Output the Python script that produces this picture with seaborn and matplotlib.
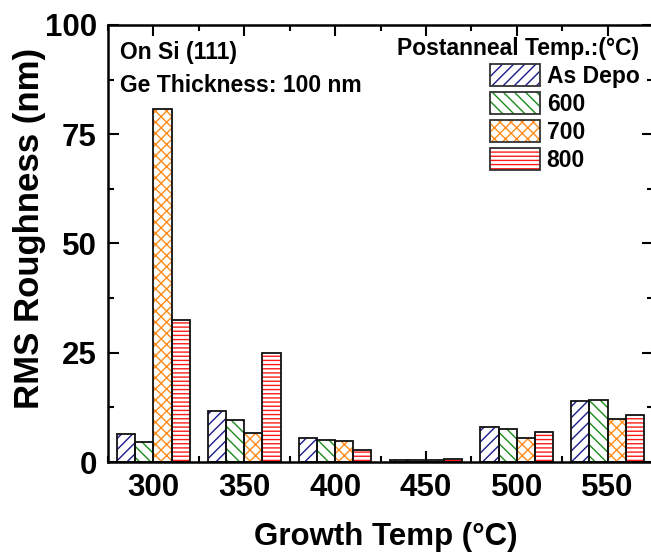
import numpy as np
import pandas as pd
import matplotlib
matplotlib.use("Agg")
import matplotlib.pyplot as plt
import seaborn as sns
from matplotlib.patches import Patch
from matplotlib.ticker import MultipleLocator

growth_temps = ["300", "350", "400", "450", "500", "550"]
anneal_labels = ["As Depo", "600", "700", "800"]
as_depo = [6.3, 11.7, 5.5, 0.55, 8.0, 14.0]
t600 = [4.5, 9.6, 5.0, 0.4, 7.6, 14.3]
t700 = [80.8, 6.6, 4.7, 0.5, 5.4, 9.9]
t800 = [32.5, 25.0, 2.8, 0.6, 6.8, 10.8]

hatch_colors = ["#1a1a8c", "#1a8c1a", "#ff8c1a", "#ff1a1a"]
hatches = ["///", "\\\\\\", "xxx", "----"]

rows = []
for lab, vals in zip(anneal_labels, [as_depo, t600, t700, t800]):
    for g, v in zip(growth_temps, vals):
        rows.append({"growth": g, "rms": v, "anneal": lab})
df = pd.DataFrame(rows)

sns.set_style("ticks", rc={"axes.edgecolor": "black", "text.color": "black",
                           "axes.labelcolor": "black", "xtick.color": "black",
                           "ytick.color": "black"})
plt.rcParams["font.family"] = ["Liberation Sans", "DejaVu Sans"]
plt.rcParams["font.weight"] = "bold"
plt.rcParams["hatch.linewidth"] = 1.0

fig = plt.figure(figsize=(6.51, 5.54), dpi=100)
ax = fig.add_axes([0.166, 0.166, 0.837, 0.789])

sns.barplot(data=df, x="growth", y="rms", hue="anneal", order=growth_temps,
            hue_order=anneal_labels, palette=["white"] * 4, errorbar=None,
            width=0.8, legend=False, ax=ax, linewidth=0, saturation=1)
for i, cont in enumerate(ax.containers):
    for bar in cont:
        bar.set_hatch(hatches[i])
        bar.set_edgecolor(hatch_colors[i])
        bar.set_linewidth(0)

sns.barplot(data=df, x="growth", y="rms", hue="anneal", order=growth_temps,
            hue_order=anneal_labels, palette=["#111111"] * 4, errorbar=None,
            width=0.8, legend=False, ax=ax, fill=False, linewidth=1.3, saturation=1)

ax.set_xlim(-0.5, 5.5)
ax.set_ylim(0, 100)
ax.yaxis.set_major_locator(MultipleLocator(25))
ax.yaxis.set_minor_locator(MultipleLocator(12.5))
ax.xaxis.set_minor_locator(MultipleLocator(0.5))

for s in ax.spines.values():
    s.set_linewidth(1.8)
    s.set_visible(True)
ax.tick_params(which="both", direction="in", top=True, right=True, width=1.5)
ax.tick_params(which="major", length=8, labelsize=22.5, pad=8)
ax.tick_params(which="minor", length=4)
for lbl in ax.get_xticklabels() + ax.get_yticklabels():
    lbl.set_fontweight("bold")

ax.set_xlabel("Growth Temp (°C)", fontsize=22.5, fontweight="bold")
ax.set_ylabel("RMS Roughness (nm)", fontsize=25, fontweight="bold")
ax.xaxis.set_label_coords(0.51, -0.138)
ax.yaxis.set_label_coords(-0.114, 0.535)

ax.text(0.022, 0.937, "On Si (111)", transform=ax.transAxes, fontsize=16.5,
        fontweight="bold", va="center", ha="left")
ax.text(0.022, 0.862, "Ge Thickness: 100 nm", transform=ax.transAxes, fontsize=16.5,
        fontweight="bold", va="center", ha="left")

handles = []
for i in range(4):
    h1 = Patch(facecolor="white", edgecolor=hatch_colors[i], hatch=hatches[i], linewidth=0)
    h2 = Patch(facecolor="none", edgecolor="#333333", linewidth=1.3)
    handles.append((h1, h2))
leg = ax.legend(handles, anneal_labels, title="Postanneal Temp.:(°C)",
                loc="upper right", bbox_to_anchor=(1.013, 1.02), frameon=False,
                handlelength=2.18, handleheight=1.05,
                labelspacing=0.2, handletextpad=0.3, alignment="right",
                prop={"weight": "bold", "size": 16.5},
                title_fontproperties={"weight": "bold", "size": 16.5})

fig.savefig("out.png", dpi=100)
